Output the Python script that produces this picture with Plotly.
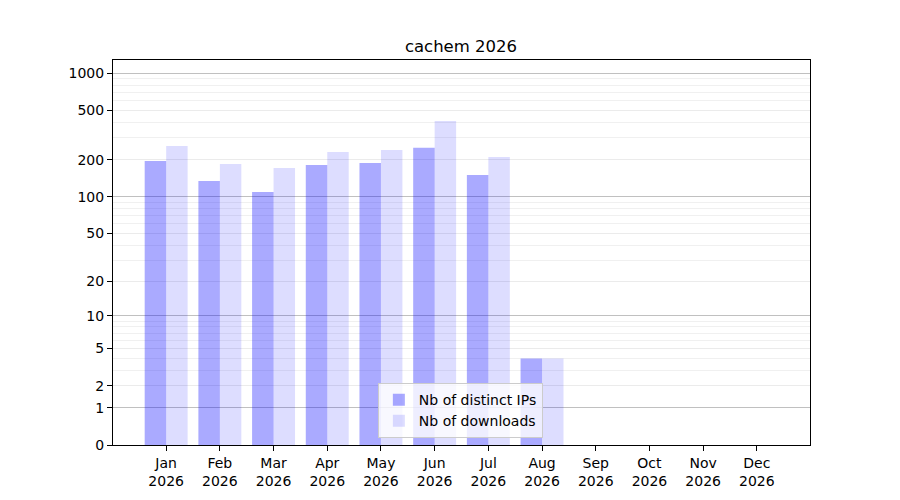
import numpy as np
import plotly.graph_objects as go

months = ["Jan", "Feb", "Mar", "Apr", "May", "Jun", "Jul", "Aug", "Sep", "Oct", "Nov", "Dec"]
year = "2026"
distinct_ips = [195, 134, 109, 181, 188, 249, 150, 4, 0, 0, 0, 0]
downloads = [258, 184, 171, 231, 239, 411, 210, 4, 0, 0, 0, 0]
tick_values = [0, 1, 2, 5, 10, 20, 50, 100, 200, 500, 1000]
major_grid_values = [1, 10, 100, 1000]
minor_grid_values = [3, 4, 6, 7, 8, 9, 30, 40, 60, 70, 80, 90, 300, 400, 600, 700, 800, 900]


def tr(v):
    return np.log10(1 + np.asarray(v, dtype=float))


x = list(range(len(months)))
xlabels = [f"{m}<br>{year}" for m in months]

fig = go.Figure()
fig.add_trace(go.Bar(x=x, y=tr(distinct_ips), name="Nb of distinct IPs",
                     marker=dict(color="rgba(0,0,255,0.333)", line=dict(width=0))))
fig.add_trace(go.Bar(x=x, y=tr(downloads), name="Nb of downloads",
                     marker=dict(color="rgba(0,0,255,0.133)", line=dict(width=0))))
# invisible trace to carry the darker major gridlines on an overlay axis
fig.add_trace(go.Scatter(x=[x[0]], y=[0], yaxis="y2", mode="markers",
                         marker=dict(opacity=0), showlegend=False, hoverinfo="skip"))

W, H = 892, 492  # page body has an 8px margin
yr = [0, 3.107]
fig.update_layout(
    width=W, height=H,
    paper_bgcolor="white", plot_bgcolor="white",
    font=dict(family="DejaVu Sans", size=14, color="black"),
    title=dict(text="cachem 2026", x=(461 - 8) / W, xanchor="center", y=1 - 38 / H, yanchor="middle",
               font=dict(size=16.5, color="black")),
    margin=dict(l=105, r=90, t=52, b=55, autoexpand=False),
    barmode="group", bargap=0.2, bargroupgap=0,
    showlegend=True,
    legend=dict(x=0.38, y=0.018, xanchor="left", yanchor="bottom",
                bgcolor="rgba(255,255,255,0.8)", bordercolor="#cccccc", borderwidth=1,
                font=dict(size=14), itemwidth=30, tracegroupgap=0),
    xaxis=dict(range=[-0.99, 11.99], tickmode="array", tickvals=x, ticktext=xlabels,
               ticks="outside", ticklen=5, tickcolor="black", showgrid=False,
               showline=True, linecolor="black", linewidth=1.1, mirror=True, zeroline=False,
               tickfont=dict(size=14)),
    yaxis=dict(range=yr, tickmode="array", tickvals=tr(tick_values),
               ticktext=[str(t) for t in tick_values],
               ticks="outside", ticklen=5, tickcolor="black",
               showgrid=True, gridcolor="#ebebeb", gridwidth=1,
               minor=dict(tickmode="array", tickvals=tr(minor_grid_values), showgrid=True,
                          gridcolor="#f0f0f0", gridwidth=1, ticks=""),
               showline=True, linecolor="black", linewidth=1.1, mirror=True, zeroline=False,
               tickfont=dict(size=14)),
    yaxis2=dict(range=yr, overlaying="y", side="left", tickmode="array",
                tickvals=tr(major_grid_values), showticklabels=False, ticks="",
                showgrid=True, gridcolor="#c0c0c0", gridwidth=1, zeroline=False,
                showline=False),
)

fig.write_html("out.html")
